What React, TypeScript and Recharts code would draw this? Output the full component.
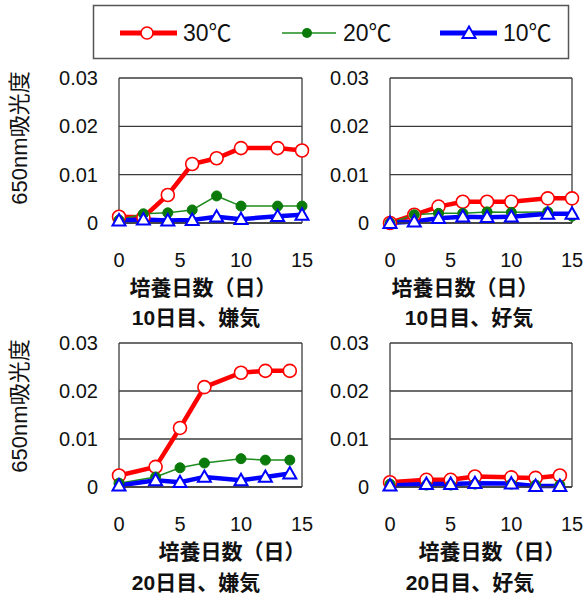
import React from "react";
import { CartesianGrid, Line, LineChart, ReferenceLine, XAxis, YAxis } from "recharts";

const DAYS_10 = [0, 2, 4, 6, 8, 10, 13, 15];
const DAYS_20 = [0, 3, 5, 7, 10, 12, 14];
const X_TICKS = [0, 5, 10, 15];
const Y_TICKS = [0, 0.01, 0.02, 0.03];
const SERIES_NAMES = ["30℃", "20℃", "10℃"];

// 10日目 嫌気
const D10_ANA_30 = [0.0013, 0.0012, 0.0058, 0.0122, 0.0134, 0.0155, 0.0155, 0.015];
const D10_ANA_20 = [0.0006, 0.0019, 0.0021, 0.0027, 0.0056, 0.0035, 0.0035, 0.0035];
const D10_ANA_10 = [0.0005, 0.0007, 0.0005, 0.0006, 0.0013, 0.0008, 0.0014, 0.0017];
// 10日目 好気
const D10_AER_30 = [0, 0.0017, 0.0034, 0.0044, 0.0044, 0.0044, 0.0051, 0.0051];
const D10_AER_20 = [0, 0.0017, 0.002, 0.002, 0.0023, 0.0022, 0.0023, 0.0014];
const D10_AER_10 = [0, 0.0003, 0.001, 0.0013, 0.0012, 0.0013, 0.0019, 0.0019];
// 20日目 嫌気
const D20_ANA_30 = [0.0024, 0.0042, 0.0123, 0.0208, 0.0238, 0.0242, 0.0242];
const D20_ANA_20 = [0.0008, 0.0021, 0.004, 0.005, 0.0059, 0.0056, 0.0056];
const D20_ANA_10 = [0.0003, 0.0014, 0.001, 0.0021, 0.0014, 0.0021, 0.0028];
// 20日目 好気
const D20_AER_30 = [0.001, 0.0015, 0.0015, 0.0022, 0.002, 0.0019, 0.0024];
const D20_AER_20 = [0.0006, 0.0004, 0.0004, 0.0006, 0.0006, 0.0004, 0.0004];
const D20_AER_10 = [0.0003, 0.0006, 0.0006, 0.0008, 0.0007, 0.0002, 0.0002];

const RED = "#ff0000";
const GREEN = "#1e8c1e";
const GREEN_DOT = "#0a7a0a";
const BLUE = "#0000ff";
const AXIS = "#3c3c3c";
const LATIN = '"Liberation Sans", Arial, sans-serif';
const MIXED = '"Liberation Sans", "Noto Sans CJK JP", sans-serif';

function buildRows(days: number[], s30: number[], s20: number[], s10: number[]) {
  return days.map((d, i) => ({ day: d, t30: s30[i], t20: s20[i], t10: s10[i] }));
}

function Triangle(props: any) {
  const { cx, cy, index } = props;
  if (cx == null || cy == null) return <g key={index} />;
  const r = 6.5;
  return (
    <polygon
      key={index}
      points={`${cx},${cy - r} ${cx + r},${cy + r * 0.75} ${cx - r},${cy + r * 0.75}`}
      fill="#fff"
      stroke={BLUE}
      strokeWidth={2}
    />
  );
}

interface PanelProps {
  rows: { day: number; t30: number; t20: number; t10: number }[];
  plotLeft: number;
  plotTop: number;
  plotRight: number;
  plotBottom: number;
}

function Panel({ rows, plotLeft, plotTop, plotRight, plotBottom }: PanelProps) {
  const left = plotLeft - 80;
  const top = plotTop - 20;
  const width = plotRight - left + 20;
  const height = plotBottom - top + 50;
  const tick = { fontSize: 20, fill: "#111", fontFamily: LATIN };
  return (
    <div style={{ position: "absolute", left, top }}>
      <LineChart width={width} height={height} data={rows} margin={{ top: 20, right: 20, left: 0, bottom: 5 }}>
        <CartesianGrid vertical={false} stroke={AXIS} strokeWidth={1.3} />
        <ReferenceLine x={15} stroke={AXIS} strokeWidth={1.3} />
        <XAxis
          type="number"
          dataKey="day"
          domain={[0, 15]}
          ticks={X_TICKS}
          height={45}
          tickLine={false}
          tickSize={0}
          tickMargin={30}
          axisLine={{ stroke: AXIS, strokeWidth: 1.3 }}
          tick={tick}
          interval={0}
        />
        <YAxis
          type="number"
          domain={[0, 0.03]}
          ticks={Y_TICKS}
          width={80}
          tickLine={false}
          tickSize={0}
          tickMargin={21}
          axisLine={{ stroke: AXIS, strokeWidth: 1.3 }}
          tick={tick}
          interval={0}
        />
        <Line
          dataKey="t30"
          name={SERIES_NAMES[0]}
          stroke={RED}
          strokeWidth={4.5}
          dot={{ r: 6.5, fill: "#fff", stroke: RED, strokeWidth: 1.6 }}
          activeDot={false}
          isAnimationActive={false}
        />
        <Line
          dataKey="t20"
          name={SERIES_NAMES[1]}
          stroke={GREEN}
          strokeWidth={1.5}
          dot={{ r: 5, fill: GREEN_DOT, stroke: GREEN_DOT, strokeWidth: 1 }}
          activeDot={false}
          isAnimationActive={false}
        />
        <Line
          dataKey="t10"
          name={SERIES_NAMES[2]}
          stroke={BLUE}
          strokeWidth={4.5}
          dot={Triangle}
          activeDot={false}
          isAnimationActive={false}
        />
      </LineChart>
    </div>
  );
}

function Label({ x, y, text, size = 21, rotate = false, weight = 700 }: any) {
  return (
    <div
      style={{
        position: "absolute",
        left: x,
        top: y,
        transform: `translate(-50%, -50%)${rotate ? " rotate(-90deg)" : ""}`,
        fontFamily: MIXED,
        fontSize: size,
        fontWeight: weight,
        color: "#111",
        whiteSpace: "nowrap",
        lineHeight: 1,
      }}
    >
      {text}
    </div>
  );
}

function Legend() {
  const cy = 33;
  return (
    <svg width={584} height={64} style={{ position: "absolute", left: 0, top: 0 }}>
      <rect x={93.5} y={5.5} width={475} height={53} fill="#fff" stroke="#555" strokeWidth={1.5} />
      <line x1={120} x2={177} y1={cy} y2={cy} stroke={RED} strokeWidth={5} />
      <circle cx={147} cy={cy} r={6} fill="#fff" stroke={RED} strokeWidth={1.6} />
      <text x={183} y={cy} dominantBaseline="central" fontSize={23} fontFamily={MIXED} fill="#111">
        {SERIES_NAMES[0]}
      </text>
      <line x1={282} x2={336} y1={cy} y2={cy} stroke={GREEN} strokeWidth={1.5} />
      <circle cx={307} cy={cy} r={5} fill={GREEN_DOT} />
      <text x={343} y={cy} dominantBaseline="central" fontSize={23} fontFamily={MIXED} fill="#111">
        {SERIES_NAMES[1]}
      </text>
      <line x1={440} x2={497} y1={cy} y2={cy} stroke={BLUE} strokeWidth={5} />
      <Triangle cx={469} cy={cy} index={0} />
      <text x={503} y={cy} dominantBaseline="central" fontSize={23} fontFamily={MIXED} fill="#111">
        {SERIES_NAMES[2]}
      </text>
    </svg>
  );
}

export default function App() {
  return (
    <div style={{ position: "fixed", left: 0, top: 0, width: 584, height: 595, background: "#fff", overflow: "hidden" }}>
      <Legend />
      <Panel rows={buildRows(DAYS_10, D10_ANA_30, D10_ANA_20, D10_ANA_10)} plotLeft={119} plotTop={78} plotRight={302} plotBottom={223} />
      <Panel rows={buildRows(DAYS_10, D10_AER_30, D10_AER_20, D10_AER_10)} plotLeft={390} plotTop={78} plotRight={572} plotBottom={223} />
      <Panel rows={buildRows(DAYS_20, D20_ANA_30, D20_ANA_20, D20_ANA_10)} plotLeft={119} plotTop={343} plotRight={302} plotBottom={487} />
      <Panel rows={buildRows(DAYS_20, D20_AER_30, D20_AER_20, D20_AER_10)} plotLeft={390} plotTop={343} plotRight={572} plotBottom={487} />
      <Label x={20} y={138} text="650nm吸光度" rotate size={22} weight={400} />
      <Label x={20} y={406} text="650nm吸光度" rotate size={22} weight={400} />
      <Label x={203} y={287} text="培養日数（日）" />
      <Label x={465} y={287} text="培養日数（日）" />
      <Label x={232} y={551} text="培養日数（日）" />
      <Label x={492} y={551} text="培養日数（日）" />
      <Label x={196} y={317} text="10日目、嫌気" />
      <Label x={469} y={317} text="10日目、好気" />
      <Label x={196} y={582} text="20日目、嫌気" />
      <Label x={470} y={582} text="20日目、好気" />
    </div>
  );
}
